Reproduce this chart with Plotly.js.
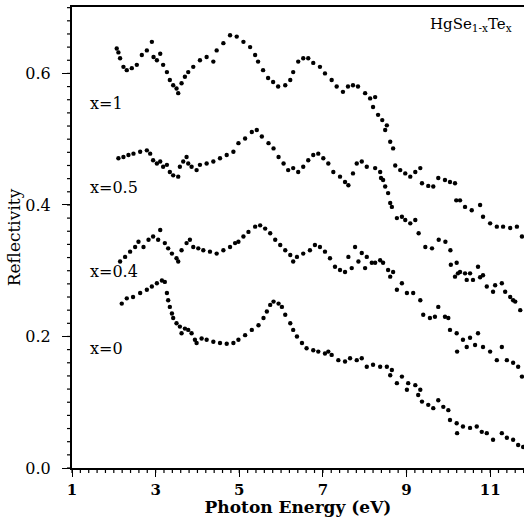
<!DOCTYPE html>
<html>
<head>
<meta charset="utf-8">
<script src="https://cdn.plot.ly/plotly-3.0.1.min.js"></script>
<style>html,body{margin:0;padding:0;background:#fff;}#chart{width:524px;height:517px;}</style>
</head>
<body>
<div id="chart"></div>
<script>
// Series x = 1
const e1 = [2.07,2.11,2.15,2.23,2.31,2.43,2.55,2.67,2.79,2.91,2.95,3.03,3.11,3.18,3.27,3.34,3.42,3.50,3.54,3.62,3.70,3.78,3.90,4.06,4.22,4.38,4.46,4.62,4.78,4.94,5.10,5.26,5.38,5.45,5.57,5.69,5.81,5.93,6.10,6.22,6.29,6.41,6.53,6.65,6.77,6.93,7.05,7.21,7.33,7.48,7.60,7.72,7.84,8.01,8.13,8.20,8.25,8.32,8.42,8.49,8.53,8.61,8.68,8.73,8.85,8.97,9.09,9.21,9.33,9.37,9.52,9.64,9.76,9.92,10.04,10.16,10.19,10.28,10.40,10.56,10.76,10.83,11.00,11.16,11.31,11.48,11.64,11.76];
const r1 = [0.638,0.632,0.623,0.610,0.605,0.608,0.613,0.628,0.635,0.648,0.625,0.620,0.630,0.613,0.602,0.590,0.582,0.577,0.570,0.585,0.595,0.602,0.610,0.620,0.625,0.618,0.635,0.646,0.658,0.656,0.648,0.640,0.628,0.618,0.605,0.593,0.587,0.580,0.582,0.590,0.602,0.618,0.623,0.623,0.616,0.610,0.600,0.590,0.580,0.572,0.580,0.582,0.580,0.570,0.562,0.549,0.564,0.537,0.529,0.514,0.521,0.496,0.486,0.460,0.453,0.448,0.443,0.450,0.456,0.433,0.429,0.428,0.441,0.438,0.435,0.433,0.407,0.407,0.397,0.392,0.400,0.382,0.372,0.367,0.367,0.365,0.367,0.352];
// Series x = 0.5
const e05 = [2.11,2.23,2.35,2.47,2.63,2.79,2.87,2.94,3.03,3.11,3.18,3.27,3.34,3.42,3.54,3.58,3.66,3.74,3.78,3.86,3.98,4.06,4.22,4.38,4.54,4.70,4.86,4.98,5.14,5.30,5.42,5.54,5.70,5.82,5.94,6.06,6.17,6.29,6.41,6.53,6.65,6.77,6.89,7.01,7.13,7.25,7.41,7.53,7.61,7.72,7.81,7.93,8.05,8.25,8.37,8.39,8.44,8.49,8.56,8.61,8.65,8.77,8.89,8.97,9.09,9.21,9.29,9.45,9.61,9.77,9.93,10.05,10.06,10.16,10.20,10.23,10.28,10.40,10.44,10.52,10.59,10.71,10.76,10.83,10.92,11.07,11.12,11.28,11.36,11.48,11.55,11.60,11.72];
const r05 = [0.471,0.473,0.476,0.478,0.481,0.483,0.478,0.468,0.463,0.466,0.458,0.461,0.450,0.445,0.443,0.458,0.466,0.473,0.463,0.458,0.453,0.461,0.463,0.466,0.471,0.476,0.481,0.494,0.501,0.511,0.514,0.504,0.494,0.486,0.473,0.463,0.453,0.456,0.450,0.458,0.468,0.476,0.478,0.471,0.463,0.450,0.443,0.435,0.430,0.448,0.463,0.466,0.458,0.456,0.450,0.441,0.438,0.428,0.418,0.403,0.397,0.380,0.382,0.377,0.372,0.377,0.357,0.336,0.334,0.347,0.344,0.331,0.309,0.291,0.312,0.296,0.298,0.296,0.286,0.296,0.286,0.306,0.290,0.293,0.276,0.268,0.278,0.281,0.268,0.260,0.255,0.253,0.240];
// Series x = 0.4
const e04 = [2.15,2.27,2.39,2.51,2.59,2.71,2.83,2.94,3.06,3.11,3.22,3.30,3.39,3.50,3.54,3.62,3.74,3.82,3.90,4.02,4.14,4.30,4.46,4.62,4.78,4.90,4.98,5.10,5.22,5.38,5.50,5.62,5.74,5.86,5.98,6.10,6.22,6.29,6.38,6.53,6.69,6.81,6.93,7.05,7.17,7.29,7.41,7.53,7.61,7.69,7.77,7.85,7.93,8.01,8.05,8.17,8.25,8.37,8.44,8.56,8.61,8.68,8.77,8.89,9.01,9.16,9.33,9.40,9.56,9.68,9.76,9.92,10.00,10.04,10.20,10.21,10.35,10.44,10.52,10.64,10.71,10.83,11.00,11.16,11.28,11.40,11.55,11.67,11.76];
const r04 = [0.314,0.321,0.329,0.336,0.344,0.336,0.347,0.352,0.347,0.362,0.342,0.334,0.326,0.319,0.314,0.331,0.342,0.347,0.336,0.334,0.331,0.329,0.326,0.331,0.336,0.342,0.344,0.352,0.359,0.367,0.369,0.364,0.357,0.347,0.339,0.331,0.324,0.314,0.321,0.326,0.331,0.339,0.336,0.329,0.319,0.306,0.301,0.298,0.321,0.304,0.336,0.314,0.327,0.304,0.321,0.312,0.312,0.316,0.312,0.301,0.291,0.298,0.271,0.281,0.266,0.266,0.255,0.233,0.228,0.230,0.245,0.230,0.228,0.210,0.205,0.177,0.195,0.184,0.198,0.187,0.205,0.184,0.177,0.164,0.184,0.164,0.160,0.154,0.139];
// Series x = 0
const e0 = [2.19,2.31,2.46,2.63,2.79,2.91,3.03,3.15,3.22,3.27,3.30,3.34,3.39,3.42,3.50,3.58,3.62,3.70,3.78,3.86,3.94,3.98,4.10,4.22,4.38,4.54,4.70,4.86,4.98,5.14,5.30,5.46,5.58,5.66,5.74,5.82,5.94,6.02,6.10,6.22,6.29,6.38,6.50,6.61,6.77,6.89,7.05,7.13,7.21,7.37,7.53,7.65,7.81,7.93,8.05,8.20,8.37,8.53,8.61,8.65,8.77,8.89,9.01,9.04,9.21,9.28,9.33,9.37,9.52,9.64,9.76,9.88,10.00,10.04,10.20,10.21,10.35,10.52,10.68,10.80,10.92,11.07,11.28,11.40,11.55,11.67,11.79];
const r0 = [0.250,0.258,0.260,0.266,0.271,0.276,0.281,0.285,0.283,0.266,0.255,0.245,0.235,0.228,0.220,0.215,0.205,0.212,0.210,0.205,0.195,0.190,0.197,0.195,0.192,0.190,0.189,0.190,0.195,0.202,0.210,0.217,0.228,0.238,0.248,0.253,0.250,0.245,0.233,0.220,0.210,0.200,0.190,0.182,0.179,0.177,0.174,0.177,0.172,0.164,0.162,0.167,0.164,0.167,0.154,0.157,0.154,0.154,0.141,0.149,0.129,0.139,0.119,0.129,0.126,0.111,0.119,0.101,0.096,0.091,0.103,0.093,0.088,0.073,0.068,0.053,0.063,0.061,0.063,0.055,0.053,0.043,0.053,0.046,0.043,0.035,0.032];

const seriesLabels = ["x=1", "x=0.5", "x=0.4", "x=0"];
const labelE = [1.38, 1.38, 1.38, 1.38];
const labelR = [0.555, 0.427, 0.299, 0.182];
const xTick0 = 1, xTickStep = 2, xMinorStep = 0.2;
const yTick0 = 0, yTickStep = 0.2, yMinorStep = 0.02;
const xRange = [1, 11.81], yRange = [0, 0.701];

const serif = "DejaVu Serif, Liberation Serif, serif";
const data = [[e1, r1], [e05, r05], [e04, r04], [e0, r0]].map(function (s, i) {
  return {x: s[0], y: s[1], type: "scatter", mode: "markers",
    marker: {color: "#000", size: 4.4, line: {width: 0}},
    name: seriesLabels[i], showlegend: false, hoverinfo: "skip"};
});

const annotations = seriesLabels.map(function (t, i) {
  return {x: labelE[i], y: labelR[i], xref: "x", yref: "y", text: t, showarrow: false,
    xanchor: "left", yanchor: "middle", font: {family: serif, size: 16, color: "#000"}};
});
annotations.push({x: 0.977, y: 0.962, xref: "paper", yref: "paper", xanchor: "right", yanchor: "middle",
  text: "HgSe<sub>1-x</sub>Te<sub>x</sub>", showarrow: false, font: {family: serif, size: 15, color: "#000"}});

// minor tick marks (paper-referenced so they are not clipped), positioned by the axis range fraction
const shapes = [];
function xFrac(v) { return (v - xRange[0]) / (xRange[1] - xRange[0]); }
function yFrac(v) { return (v - yRange[0]) / (yRange[1] - yRange[0]); }
for (let i = 0; ; i++) {
  const v = xTick0 + i * xMinorStep;
  if (v > xRange[1] + 1e-9) break;
  const f = xFrac(v);
  shapes.push({type: "line", xref: "paper", yref: "paper", x0: f, x1: f,
    ysizemode: "pixel", yanchor: 0, y0: -5, y1: 0, layer: "above",
    line: {color: "#000", width: 1.2}});
}
for (let i = 0; ; i++) {
  const v = yTick0 + i * yMinorStep;
  if (v > yRange[1] + 1e-9) break;
  const f = yFrac(v);
  shapes.push({type: "line", xref: "paper", yref: "paper", y0: f, y1: f,
    xsizemode: "pixel", xanchor: 0, x0: -5, x1: 0, layer: "above",
    line: {color: "#000", width: 1.2}});
}

const layout = {
  width: 524, height: 517,
  margin: {l: 72, r: 0, t: 7, b: 49, pad: 0},
  paper_bgcolor: "#fff", plot_bgcolor: "#fff",
  font: {family: serif, color: "#000"},
  showlegend: false,
  hovermode: false,
  xaxis: {
    range: xRange, showgrid: false, zeroline: false,
    showline: true, linecolor: "#000", linewidth: 2, mirror: true,
    tick0: xTick0, dtick: xTickStep,
    ticks: "outside", ticklen: 7, tickwidth: 1.3, tickcolor: "#000",
    tickfont: {family: serif, size: 15, color: "#000", weight: "bold"},
    title: {text: "Photon Energy (eV)", font: {family: serif, size: 17, color: "#000", weight: "bold"}, standoff: 3}
  },
  yaxis: {
    range: yRange, showgrid: false, zeroline: false,
    showline: true, linecolor: "#000", linewidth: 2, mirror: false,
    tick0: yTick0, dtick: yTickStep, tickformat: ".1f",
    ticks: "outside", ticklen: 8, tickwidth: 1.3, tickcolor: "#000",
    tickfont: {family: serif, size: 16, color: "#000"},
    ticklabelstandoff: 8,
    title: {text: "Reflectivity", font: {family: serif, size: 17, color: "#000"}, standoff: 0}
  },
  shapes: shapes,
  annotations: annotations
};

Plotly.newPlot("chart", data, layout, {displayModeBar: false});
</script>
</body>
</html>
